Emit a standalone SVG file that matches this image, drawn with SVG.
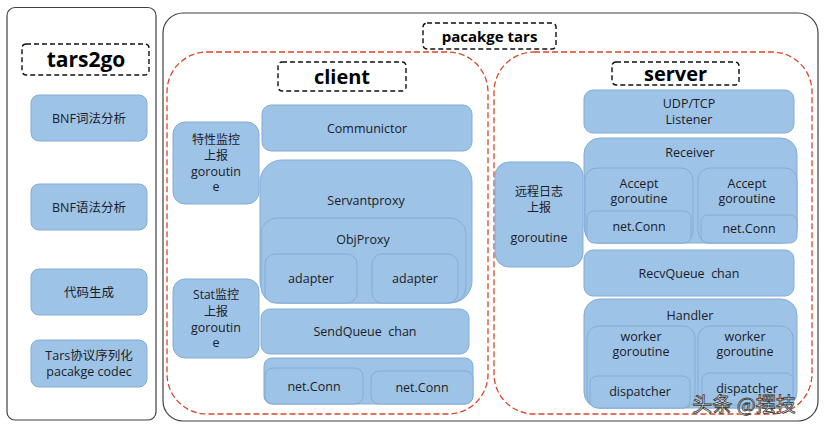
<svg xmlns="http://www.w3.org/2000/svg" width="824" height="426" viewBox="0 0 824 426">
<style>
.panel{fill:#fff;stroke:#404040;stroke-width:1.2}
.dash{fill:#fff;stroke:#111;stroke-width:1.4;stroke-dasharray:5 3}
.red{fill:none;stroke:#d9472b;stroke-width:1.3;stroke-dasharray:6 3}
.n{fill:#9dc3e6;stroke:#85acd6;stroke-width:1}
.t{font-family:"Open Sans","Noto Sans","Noto Sans CJK SC",sans-serif;font-size:12.5px;fill:#1c1c28;text-anchor:middle}
.c{font-size:12px}
.h{font-family:"Open Sans","Noto Sans","Noto Sans CJK SC",sans-serif;font-weight:bold;fill:#000;text-anchor:middle}
.wm{font-family:"Noto Sans CJK SC",sans-serif;font-size:20px;fill:#fff;stroke:#333;stroke-width:0.8;text-anchor:middle}
</style>
<rect width="824" height="426" fill="#fff"/>
<g id="tars2go-panel">
<rect class="panel" x="7" y="7.5" width="149" height="412.5" rx="8"/>
<rect class="dash" x="22" y="44" width="127" height="31" rx="4"/>
<text class="h" x="86" y="67" font-size="21">tars2go</text>
</g>
<g id="bnf-lex"><rect class="n" x="31" y="95" width="116" height="46" rx="8"/><text class="t" x="89" y="122.5">BNF词法分析</text></g>
<g id="bnf-syn"><rect class="n" x="31" y="184" width="116" height="46" rx="8"/><text class="t" x="89" y="211.5">BNF语法分析</text></g>
<g id="codegen"><rect class="n" x="31" y="269" width="116" height="46" rx="8"/><text class="t" x="89" y="297">代码生成</text></g>
<g id="codec"><rect class="n" x="31" y="340" width="116" height="47" rx="8"/><text class="t" x="89" y="359.5">Tars协议序列化</text><text class="t" x="89" y="376">pacakge codec</text></g>
<g id="package-tars">
<rect class="panel" x="163" y="13" width="655" height="408" rx="20"/>
<rect class="dash" x="423" y="23" width="133" height="26" rx="4"/>
<text class="h" x="489.5" y="41.5" font-size="15">pacakge tars</text>
</g>
<g id="client">
<rect class="red" x="167" y="52" width="321" height="362" rx="40"/>
<rect class="dash" x="278" y="62" width="128" height="29" rx="4"/>
<text class="h" x="342" y="83.5" font-size="20">client</text>
</g>
<g id="server">
<rect class="red" x="494" y="52" width="318" height="362" rx="40"/>
<rect class="dash" x="612" y="62" width="127" height="23" rx="4"/>
<text class="h" x="675.5" y="80.5" font-size="20">server</text>
</g>
<g id="feature-monitor"><rect class="n" x="173" y="122" width="86" height="82" rx="12"/>
<text class="t c" x="216" y="143.5">特性监控</text><text class="t c" x="216" y="159.5">上报</text><text class="t" x="216" y="176">goroutin</text><text class="t" x="216" y="191">e</text></g>
<g id="communictor"><rect class="n" x="262" y="105" width="210" height="46" rx="9"/><text class="t" x="367" y="132.5">Communictor</text></g>
<g id="servantproxy"><rect class="n" x="260" y="160" width="212" height="143" rx="22"/><text class="t" x="366" y="204.5">Servantproxy</text></g>
<g id="objproxy"><rect class="n" x="261" y="218" width="205" height="85" rx="16"/><text class="t" x="363" y="244">ObjProxy</text></g>
<g id="adapter1"><rect class="n" x="265" y="254" width="92" height="49" rx="10"/><text class="t" x="311" y="283">adapter</text></g>
<g id="adapter2"><rect class="n" x="372" y="254" width="86" height="49" rx="10"/><text class="t" x="415" y="283">adapter</text></g>
<g id="stat-monitor"><rect class="n" x="173" y="279" width="86" height="79" rx="12"/>
<text class="t c" x="216" y="299">Stat监控</text><text class="t c" x="216" y="315.5">上报</text><text class="t" x="216" y="331.5">goroutin</text><text class="t" x="216" y="347">e</text></g>
<g id="sendqueue"><rect class="n" x="261" y="309" width="208" height="45" rx="9"/><text class="t" x="365" y="336">SendQueue&#160;&#160;chan</text></g>
<g id="client-conns"><rect class="n" x="264" y="358" width="209" height="46" rx="8"/></g>
<g id="client-conn1"><rect class="n" x="265" y="368" width="98" height="36" rx="8"/><text class="t" x="314" y="391">net.Conn</text></g>
<g id="client-conn2"><rect class="n" x="371" y="371" width="102" height="33" rx="8"/><text class="t" x="422" y="391.5">net.Conn</text></g>
<g id="listener"><rect class="n" x="584" y="90" width="210" height="43" rx="9"/><text class="t" x="689" y="108">UDP/TCP</text><text class="t" x="689" y="124">Listener</text></g>
<g id="receiver"><rect class="n" x="584" y="138" width="213" height="105" rx="16"/><text class="t" x="690" y="157">Receiver</text></g>
<g id="accept1"><rect class="n" x="585" y="168" width="108" height="75" rx="12"/><text class="t" x="639" y="188">Accept</text><text class="t" x="639" y="203">goroutine</text></g>
<g id="accept1-conn"><rect class="n" x="587" y="211" width="104" height="32" rx="7"/><text class="t" x="639" y="231">net.Conn</text></g>
<g id="accept2"><rect class="n" x="698" y="168" width="99" height="75" rx="12"/><text class="t" x="747" y="188">Accept</text><text class="t" x="747" y="203">goroutine</text></g>
<g id="accept2-conn"><rect class="n" x="701" y="215" width="96" height="28" rx="7"/><text class="t" x="749" y="233">net.Conn</text></g>
<g id="remote-log"><rect class="n" x="495" y="162" width="88" height="105" rx="14"/>
<text class="t c" x="539" y="195.5">远程日志</text><text class="t c" x="539" y="211.5">上报</text><text class="t" x="539" y="242">goroutine</text></g>
<g id="recvqueue"><rect class="n" x="584" y="250" width="210" height="46" rx="9"/><text class="t" x="689" y="277.5">RecvQueue&#160;&#160;chan</text></g>
<g id="handler"><rect class="n" x="584" y="299" width="213" height="109" rx="16"/><text class="t" x="690" y="320">Handler</text></g>
<g id="worker1"><rect class="n" x="587" y="326" width="108" height="82" rx="12"/><text class="t" x="641" y="341">worker</text><text class="t" x="641" y="356">goroutine</text></g>
<g id="dispatcher1"><rect class="n" x="590" y="376" width="100" height="32" rx="7"/><text class="t" x="640" y="396">dispatcher</text></g>
<g id="worker2"><rect class="n" x="698" y="326" width="95" height="82" rx="12"/><text class="t" x="745" y="341">worker</text><text class="t" x="745" y="356">goroutine</text></g>
<g id="dispatcher2"><rect class="n" x="702" y="373" width="91" height="32" rx="7"/><text class="t" x="747" y="393">dispatcher</text></g>
<g id="connectors"></g>
<text class="wm" x="744" y="412">头条 @摆技</text>
</svg>
